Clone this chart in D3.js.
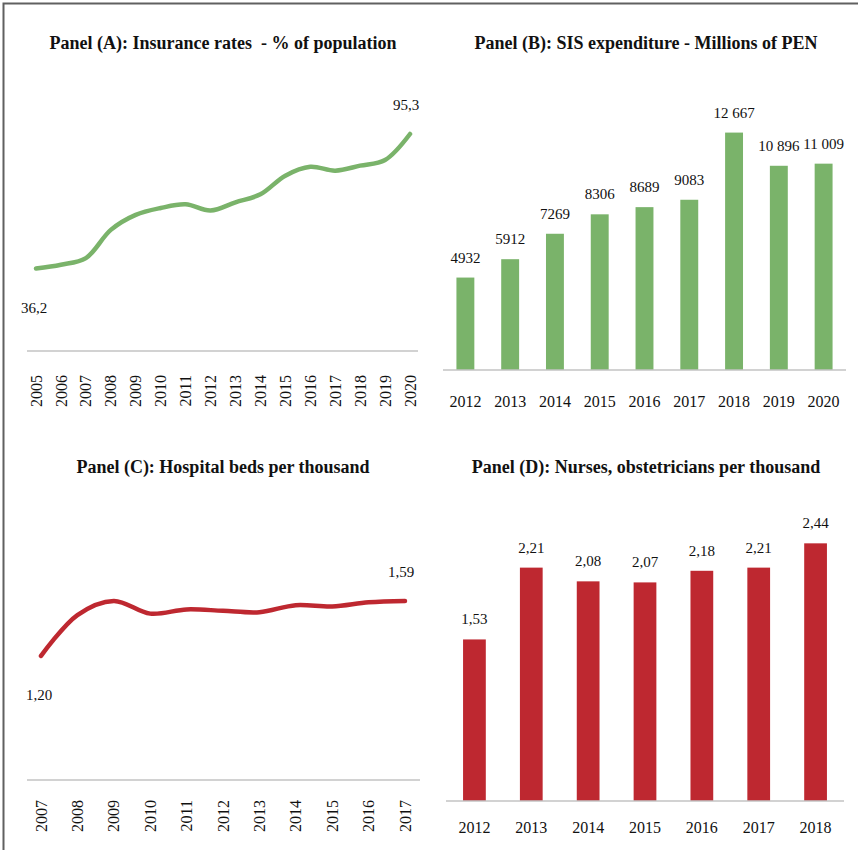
<!DOCTYPE html>
<html>
<head>
<meta charset="utf-8">
<script src="https://cdn.jsdelivr.net/npm/d3@7"></script>
<style>
  body { margin: 0; background: #fff; }
  text { font-family: "Liberation Serif", "Times New Roman", serif; fill: #111; }
</style>
</head>
<body>
<svg id="chart" width="858" height="850"></svg>
<script>
// Panel A: insurance rates, % of population
const insYears = ["2005", "2006", "2007", "2008", "2009", "2010", "2011", "2012",
  "2013", "2014", "2015", "2016", "2017", "2018", "2019", "2020"];
const insRate = [36.2, 37.9, 40.8, 53.2, 59.8, 62.8, 64.4, 61.7, 65.3, 68.8, 77.0, 80.9, 79.2, 81.4, 83.9, 95.3];

// Panel B: SIS expenditure, millions of PEN
const sisYears = ["2012", "2013", "2014", "2015", "2016", "2017", "2018", "2019", "2020"];
const sisSpend = [4932, 5912, 7269, 8306, 8689, 9083, 12667, 10896, 11009];

// Panel C: hospital beds per thousand
const bedYears = ["2007", "2008", "2009", "2010", "2011", "2012", "2013", "2014", "2015", "2016", "2017"];
const beds = [1.20, 1.49, 1.59, 1.50, 1.53, 1.52, 1.51, 1.56, 1.55, 1.58, 1.59];

// Panel D: nurses, obstetricians per thousand
const nurseYears = ["2012", "2013", "2014", "2015", "2016", "2017", "2018"];
const nurses = [1.53, 2.21, 2.08, 2.07, 2.18, 2.21, 2.44];

const green = "#7ab36a",
  red = "#be2830",
  axisColor = "#c3c3c3";

const es = d3.formatLocale({decimal: ",", thousands: " ", grouping: [3], currency: ["", ""]});
const fmtBig = function (v) {
  return v >= 10000 ? es.format(",")(v) : String(v);
};

const svg = d3.select("#chart");

// frame on the left and top
svg.append("path")
  .attr("d", "M3.5,850V3.5H858")
  .attr("fill", "none")
  .attr("stroke", "#606060")
  .attr("stroke-width", 2);

function title(x, y, txt) {
  svg.append("text")
    .attr("x", x)
    .attr("y", y)
    .attr("text-anchor", "middle")
    .style("font-size", "18px")
    .style("font-weight", "bold")
    .style("white-space", "pre")
    .text(txt);
}

function baseline(x0, x1, y) {
  svg.append("line")
    .attr("x1", x0).attr("x2", x1)
    .attr("y1", y).attr("y2", y)
    .attr("stroke", axisColor)
    .attr("stroke-width", 1.5);
}

function linePanel(opt) {
  const x = d3.scalePoint().domain(opt.cats).range(opt.xRange);
  const y = d3.scaleLinear().domain(opt.yDomain).range(opt.yRange);
  const data = opt.cats.map(function (c, i) { return {c: c, v: opt.vals[i]}; });

  baseline(opt.axisX[0], opt.axisX[1], opt.yRange[0]);

  // rotated year labels
  svg.append("g")
    .selectAll("text")
    .data(opt.cats)
    .enter().append("text")
    .attr("transform", function (d) {
      return "translate(" + x(d) + "," + opt.labelTop + ") rotate(-90)";
    })
    .attr("text-anchor", "end")
    .attr("dy", "0.35em")
    .style("font-size", "16px")
    .text(function (d) { return d; });

  svg.append("path")
    .datum(data)
    .attr("fill", "none")
    .attr("stroke", opt.color)
    .attr("stroke-width", 4.5)
    .attr("stroke-linecap", "round")
    .attr("d", d3.line()
      .curve(d3.curveCatmullRom)
      .x(function (d) { return x(d.c); })
      .y(function (d) { return y(d.v); }));

  const first = data[0], last = data[data.length - 1];
  svg.append("text")
    .attr("x", x(first.c) - 2)
    .attr("y", y(first.v) + 44)
    .attr("text-anchor", "middle")
    .style("font-size", "15px")
    .text(opt.fmt(first.v));
  svg.append("text")
    .attr("x", x(last.c) - 4)
    .attr("y", y(last.v) - 24)
    .attr("text-anchor", "middle")
    .style("font-size", "15px")
    .text(opt.fmt(last.v));
}

function barPanel(opt) {
  const x = d3.scaleBand().domain(opt.cats).range(opt.xRange).paddingInner(0.6).paddingOuter(0.3);
  const y = d3.scaleLinear().domain(opt.yDomain).range(opt.yRange);
  const data = opt.cats.map(function (c, i) { return {c: c, v: opt.vals[i]}; });

  svg.append("g")
    .selectAll("rect")
    .data(data)
    .enter().append("rect")
    .attr("x", function (d) { return x(d.c); })
    .attr("width", x.bandwidth())
    .attr("y", function (d) { return y(d.v); })
    .attr("height", function (d) { return y(0) - y(d.v); })
    .attr("fill", opt.color);

  baseline(opt.xRange[0], opt.xRange[1], opt.yRange[0]);

  svg.append("g")
    .selectAll("text")
    .data(data)
    .enter().append("text")
    .attr("x", function (d) { return x(d.c) + x.bandwidth() / 2; })
    .attr("y", function (d) { return y(d.v) - 15; })
    .attr("text-anchor", "middle")
    .style("font-size", "15px")
    .text(function (d) { return opt.fmt(d.v); });

  svg.append("g")
    .selectAll("text")
    .data(opt.cats)
    .enter().append("text")
    .attr("x", function (d) { return x(d) + x.bandwidth() / 2; })
    .attr("y", opt.tickY)
    .attr("text-anchor", "middle")
    .style("font-size", "16px")
    .text(function (d) { return d; });
}

title(223, 49, "Panel (A): Insurance rates  - % of population");
linePanel({
  cats: insYears, vals: insRate, color: green,
  xRange: [36, 410], axisX: [27, 418], yDomain: [0, 100], yRange: [351, 123.3],
  labelTop: 375, fmt: es.format(".1f")
});

title(646, 49, "Panel (B): SIS expenditure - Millions of PEN");
barPanel({
  cats: sisYears, vals: sisSpend, color: green,
  xRange: [443, 846], yDomain: [0, 14000], yRange: [370, 107.6],
  tickY: 407, fmt: fmtBig
});

title(223, 473, "Panel (C): Hospital beds per thousand");
linePanel({
  cats: bedYears, vals: beds, color: red,
  xRange: [41, 405], axisX: [27, 420], yDomain: [0.32, 1.92], yRange: [780, 554.4],
  labelTop: 800, fmt: es.format(".2f")
});

title(646, 473, "Panel (D): Nurses, obstetricians per thousand");
barPanel({
  cats: nurseYears, vals: nurses, color: red,
  xRange: [446, 844], yDomain: [0, 3], yRange: [801, 484.2],
  tickY: 833, fmt: es.format(".2f")
});
</script>
</body>
</html>
